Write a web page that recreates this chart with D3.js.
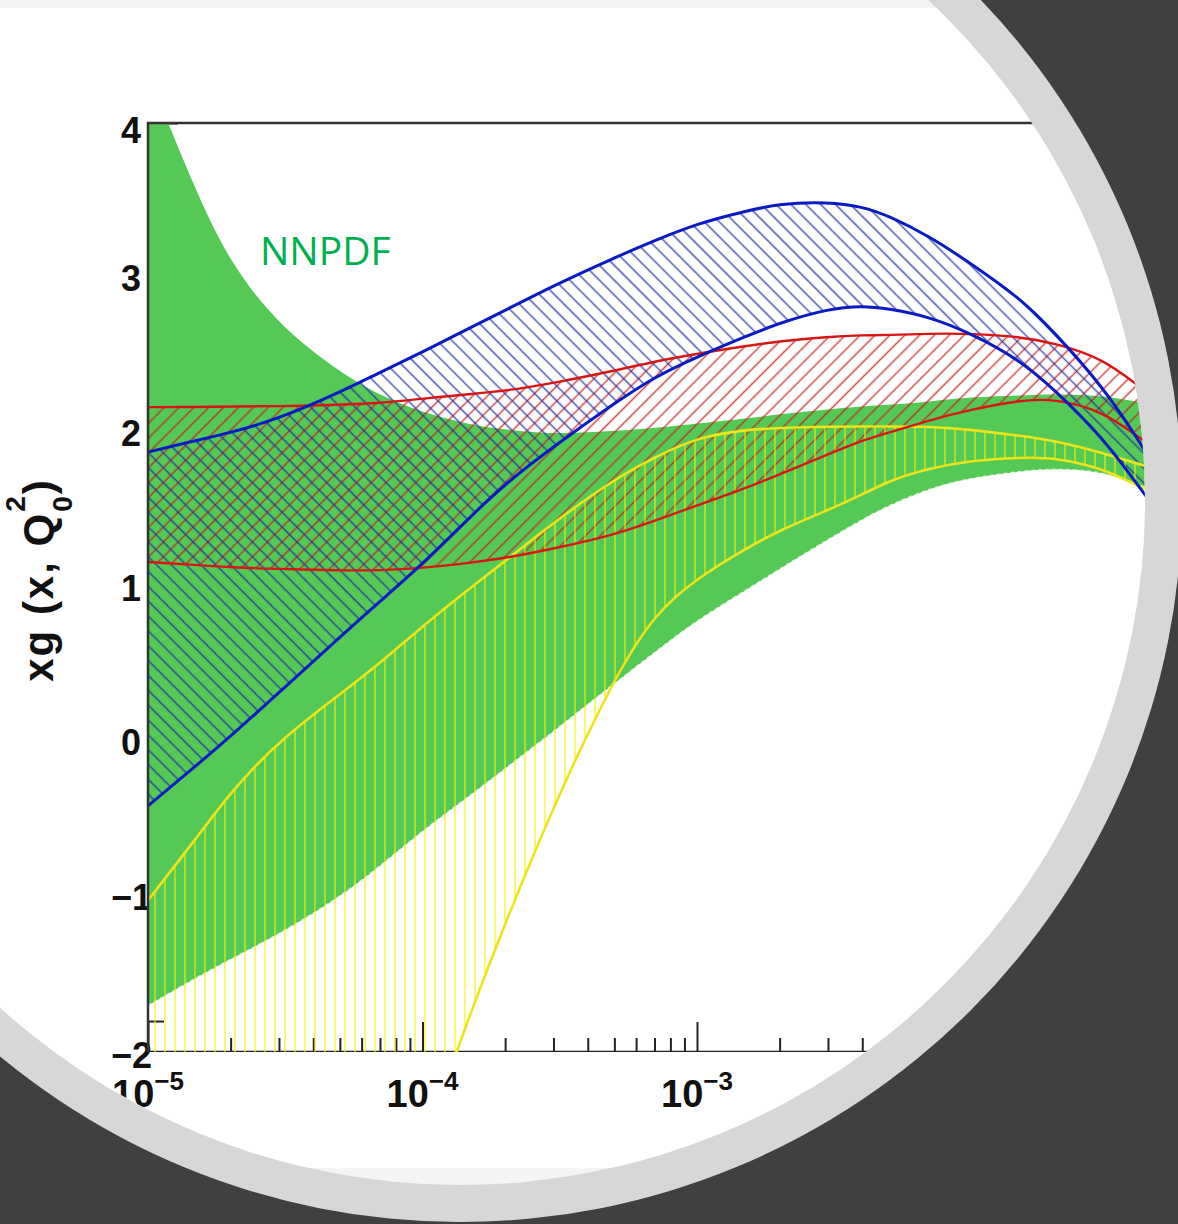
<!DOCTYPE html>
<html>
<head>
<meta charset="utf-8">
<script src="https://cdn.jsdelivr.net/npm/d3@7"></script>
<style>
  html, body { margin: 0; padding: 0; background: #404040; }
  svg { display: block; }
</style>
</head>
<body>
<svg width="1178" height="1224"></svg>
<script>
// x sampling points (momentum fraction) and band edges
const xGrid = [1e-5, 1.5e-5, 2e-5, 3e-5, 5e-5, 7e-5, 1e-4, 1.5e-4, 2e-4, 3e-4, 5e-4, 7e-4,
  1e-3, 1.5e-3, 2e-3, 3e-3, 4e-3, 5e-3, 7e-3, 1e-2, 1.5e-2, 2e-2, 3e-2, 4e-2, 5e-2];

const nnpdfUpper = [4.32, 3.55, 3.09, 2.69, 2.39, 2.24, 2.13, 2.05, 2.02, 1.99, 2.01, 2.03,
  2.06, 2.09, 2.12, 2.15, 2.17, 2.18, 2.20, 2.23, 2.24, 2.25, 2.24, 2.20, 2.17];
const nnpdfLower = [-1.70, -1.52, -1.40, -1.24, -1.00, -0.80, -0.57, -0.34, -0.17, 0.07, 0.38, 0.58,
  0.79, 0.98, 1.12, 1.31, 1.44, 1.53, 1.64, 1.71, 1.75, 1.77, 1.75, 1.67, 1.60];

const yellowUpper = [-1.02, -0.62, -0.32, 0.01, 0.31, 0.51, 0.75, 1.00, 1.17, 1.42, 1.70, 1.84,
  1.97, 2.02, 2.03, 2.04, 2.04, 2.04, 2.04, 2.02, 1.98, 1.95, 1.87, 1.80, 1.75];
const yellowLower = [-6.5, -6.0, -5.6, -5.0, -4.2, -3.4, -2.6, -1.74, -1.17, -0.41, 0.42, 0.83,
  1.06, 1.25, 1.37, 1.50, 1.60, 1.69, 1.77, 1.82, 1.84, 1.84, 1.77, 1.66, 1.58];

const blueUpper = [1.875, 1.95, 2.00, 2.09, 2.26, 2.39, 2.52, 2.68, 2.79, 2.95, 3.13, 3.24,
  3.35, 3.43, 3.48, 3.49, 3.46, 3.40, 3.27, 3.09, 2.87, 2.65, 2.30, 1.97, 1.69];
const blueLower = [-0.41, -0.15, 0.04, 0.32, 0.68, 0.91, 1.15, 1.46, 1.67, 1.91, 2.19, 2.36,
  2.49, 2.62, 2.71, 2.80, 2.82, 2.80, 2.75, 2.64, 2.47, 2.28, 1.97, 1.67, 1.44];

const redUpper = [2.165, 2.165, 2.17, 2.17, 2.18, 2.19, 2.22, 2.25, 2.27, 2.32, 2.40, 2.46,
  2.51, 2.56, 2.59, 2.62, 2.63, 2.63, 2.64, 2.64, 2.62, 2.58, 2.48, 2.31, 2.18];
const redLower = [1.165, 1.145, 1.13, 1.12, 1.11, 1.11, 1.125, 1.16, 1.19, 1.25, 1.34, 1.43,
  1.53, 1.64, 1.73, 1.86, 1.95, 2.00, 2.08, 2.15, 2.21, 2.22, 2.14, 1.98, 1.86];

const yTicks = [-2, -1, 0, 1, 2, 3, 4];
const xDecades = [-5, -4, -3, -2];

const svg = d3.select('svg');
const width = 1178;
const height = 1224;

const lensX = 460, lensY = 500, rOuter = 722, rInner = 685;
const plotLeft = 148, plotTop = 123, plotBottom = 1052;

const xScale = d3.scaleLog()
  .domain([1e-5, 1])
  .range([plotLeft, plotLeft + 5 * 274.5]);
const yScale = d3.scaleLinear()
  .domain([-2, 4])
  .range([plotBottom, plotTop]);

const defs = svg.append('defs');
defs.append('clipPath').attr('id', 'lens')
  .append('circle')
    .attr('cx', lensX).attr('cy', lensY).attr('r', rInner);
defs.append('clipPath').attr('id', 'plot-area')
  .append('rect')
    .attr('x', plotLeft).attr('y', plotTop)
    .attr('width', 1500).attr('height', plotBottom - plotTop);

const hatch = (id, angle, step, color, strokeWidth, opacity) => {
  defs.append('pattern')
      .attr('id', id)
      .attr('patternUnits', 'userSpaceOnUse')
      .attr('width', step)
      .attr('height', step)
      .attr('patternTransform', `rotate(${angle})`)
    .append('line')
      .attr('x1', step / 2).attr('y1', 0)
      .attr('x2', step / 2).attr('y2', step)
      .attr('stroke', color)
      .attr('stroke-width', strokeWidth)
      .attr('stroke-opacity', opacity);
};
hatch('hatch-red', 45, 10.5, '#c41d1d', 1.5, 0.8);
hatch('hatch-blue', -45, 10.5, '#1c2aa8', 1.5, 0.8);
hatch('hatch-yellow', 0, 10, '#f2ee00', 2, 0.55);

// slide backdrop: dark page, grey ring, pale disc
svg.append('rect')
  .attr('width', width).attr('height', height)
  .attr('fill', '#404040');
svg.append('circle')
  .attr('cx', lensX).attr('cy', lensY).attr('r', rOuter)
  .attr('fill', '#d7d7d7');
svg.append('circle')
  .attr('cx', lensX).attr('cy', lensY).attr('r', rInner)
  .attr('fill', '#f4f4f4');

const lens = svg.append('g').attr('clip-path', 'url(#lens)');
lens.append('rect')
  .attr('x', 0).attr('y', 8)
  .attr('width', width).attr('height', 1160)
  .attr('fill', '#ffffff');

// tick labels (drawn first, fills may cover them like in the original)
lens.selectAll('.y-label').data(yTicks)
  .enter().append('text')
    .attr('class', 'y-label')
    .attr('x', d => d < 0 ? 152 : 141)
    .attr('y', d => d === 4 ? 143 : d === -2 ? 1068 : yScale(d) + 13)
    .attr('text-anchor', 'end')
    .attr('font-family', 'Liberation Sans, Arial, sans-serif')
    .attr('font-weight', 'bold')
    .attr('font-size', 36)
    .attr('fill', '#111')
    .text(d => d < 0 ? '\u2212' + (-d) : d);

const xLabels = lens.selectAll('.x-label').data(xDecades)
  .enter().append('text')
    .attr('class', 'x-label')
    .attr('x', d => xScale(Math.pow(10, d)))
    .attr('y', 1107)
    .attr('text-anchor', 'middle')
    .attr('font-family', 'Liberation Sans, Arial, sans-serif')
    .attr('font-weight', 'bold')
    .attr('font-size', 38)
    .attr('fill', '#111');
xLabels.append('tspan').text('10');
xLabels.append('tspan')
  .attr('font-size', 26)
  .attr('dy', -17)
  .text(d => '\u2212' + (-d));

const plot = lens.append('g').attr('clip-path', 'url(#plot-area)');

// axis ticks pointing inwards
const minorX = xScale.ticks(50).filter(v => Math.abs(Math.log10(v) - Math.round(Math.log10(v))) > 1e-6);
const xMajorAxis = d3.axisBottom(xScale)
  .tickValues(xDecades.map(d => Math.pow(10, d)))
  .tickSize(-30).tickFormat('');
const xMinorAxis = d3.axisBottom(xScale)
  .tickValues(minorX)
  .tickSize(-14).tickFormat('');
const yMajorAxis = d3.axisLeft(yScale)
  .tickValues(yTicks)
  .tickSize(-30).tickFormat('');
const yMinorAxis = d3.axisLeft(yScale)
  .tickValues(d3.range(-2, 4.01, 0.2))
  .tickSize(-16).tickFormat('');

[[xMajorAxis, `translate(0,${plotBottom})`], [xMinorAxis, `translate(0,${plotBottom})`],
 [yMajorAxis, `translate(${plotLeft},0)`], [yMinorAxis, `translate(${plotLeft},0)`]]
  .forEach(([axis, tr]) => {
    const g = plot.append('g').attr('transform', tr).call(axis);
    g.selectAll('.domain').remove();
    g.selectAll('line').attr('stroke', '#222').attr('stroke-width', 2);
  });

plot.append('line')
  .attr('x1', plotLeft).attr('x2', 1600)
  .attr('y1', plotBottom).attr('y2', plotBottom)
  .attr('stroke', '#222').attr('stroke-width', 2.5);

const rows = (lo, hi) => xGrid.map((x, i) => ({ x: x, lo: lo[i], hi: hi[i] }));

const area = d3.area()
  .x(d => xScale(d.x))
  .y0(d => yScale(d.lo))
  .y1(d => yScale(d.hi))
  .curve(d3.curveBasis);

const edge = key => d3.line()
  .x(d => xScale(d.x))
  .y(d => yScale(d[key]))
  .curve(d3.curveBasis);

const nnpdf = rows(nnpdfLower, nnpdfUpper);
const yellow = rows(yellowLower, yellowUpper);
const blue = rows(blueLower, blueUpper);
const red = rows(redLower, redUpper);

plot.append('path')
  .attr('d', area(nnpdf))
  .attr('fill', '#55c955');
plot.append('path')
  .attr('d', edge('lo')(nnpdf))
  .attr('fill', 'none')
  .attr('stroke', '#e4f3dc')
  .attr('stroke-width', 1.3)
  .attr('stroke-dasharray', '4 3');

plot.append('path').attr('d', area(red)).attr('fill', 'url(#hatch-red)');
plot.append('path').attr('d', area(blue)).attr('fill', 'url(#hatch-blue)');
plot.append('path').attr('d', area(yellow)).attr('fill', 'url(#hatch-yellow)');

const edges = [
  { data: yellow, color: '#eee41a', w: 2.6 },
  { data: red, color: '#d91616', w: 2.4 },
  { data: blue, color: '#0a1bc4', w: 3 }
];
edges.forEach(e => {
  ['lo', 'hi'].forEach(k => {
    plot.append('path')
      .attr('d', edge(k)(e.data))
      .attr('fill', 'none')
      .attr('stroke', e.color)
      .attr('stroke-width', e.w);
  });
});

// frame: left and top edges
lens.append('path')
  .attr('d', `M${plotLeft},${plotBottom}V${plotTop}H1600`)
  .attr('fill', 'none')
  .attr('stroke', '#333')
  .attr('stroke-width', 2.5);

lens.append('text')
  .attr('x', 260)
  .attr('y', 265)
  .attr('font-family', 'Open Sans, sans-serif')
  .attr('font-size', 39)
  .attr('fill', '#00b050')
  .text('NNPDF');

const title = lens.append('text')
  .attr('transform', 'translate(53,580) rotate(-90)')
  .attr('text-anchor', 'middle')
  .attr('font-family', 'Liberation Sans, Arial, sans-serif')
  .attr('font-weight', 'bold')
  .attr('font-size', 42)
  .attr('letter-spacing', 2)
  .attr('fill', '#111');
title.append('tspan').text('xg (x, Q');
title.append('tspan').attr('font-size', 28).attr('dy', -28).text('2');
title.append('tspan').attr('font-size', 28).attr('dx', -17.6).attr('dy', 47).text('0');
title.append('tspan').attr('dy', -19).text(')');
</script>
</body>
</html>
